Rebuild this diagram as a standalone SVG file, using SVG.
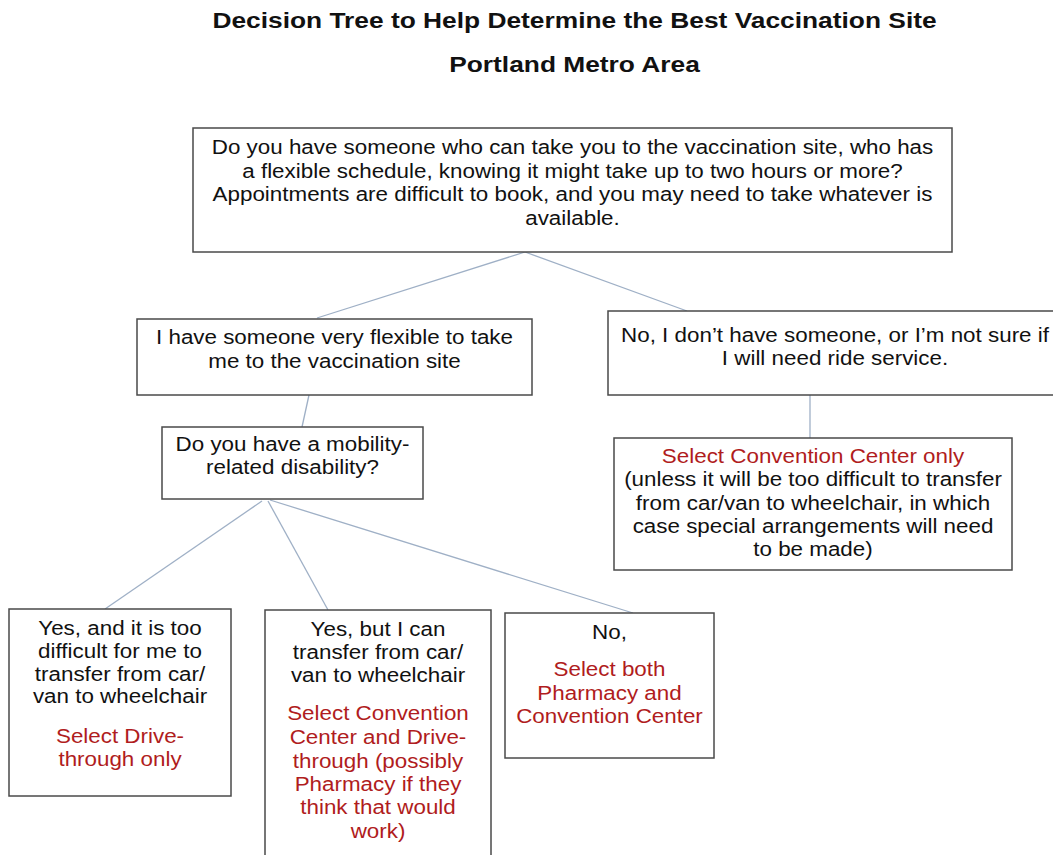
<svg xmlns="http://www.w3.org/2000/svg" width="1053" height="855" viewBox="0 0 1053 855">
<style>
.box{fill:#fff;stroke:#4a4a4a;stroke-width:1.5}
.conn{stroke:#9fb0c6;stroke-width:1.3;fill:none}
.t{font-family:"Liberation Sans",Arial,sans-serif;font-size:19.3px;fill:#111;text-anchor:middle}
.r{fill:#b01c20}
.title{font-family:"Liberation Sans",Arial,sans-serif;font-size:22.7px;font-weight:bold;fill:#111;text-anchor:middle}
</style>
<rect width="1053" height="855" fill="#fff"/>
<g id="title">
<g transform="translate(574.5 0) scale(1.16 1)">
<text class="title" x="0" y="28">Decision Tree to Help Determine the Best Vaccination Site</text>
<text class="title" x="0" y="72">Portland Metro Area</text>
</g>
</g>
<g id="connectors">
<line class="conn" x1="525" y1="252" x2="317" y2="318"/>
<line class="conn" x1="525" y1="252" x2="687" y2="311"/>
<line class="conn" x1="309" y1="395" x2="302" y2="427"/>
<line class="conn" x1="810" y1="395" x2="810" y2="438"/>
<line class="conn" x1="262" y1="501" x2="105" y2="609"/>
<line class="conn" x1="268" y1="501" x2="328" y2="610"/>
<line class="conn" x1="270" y1="500" x2="633" y2="613"/>
</g>
<g id="q-ride">
<rect class="box" x="193" y="128" width="759" height="124"/>
<g transform="translate(572.5 0) scale(1.16 1)">
<text class="t" x="0" y="154">Do you have someone who can take you to the vaccination site, who has</text>
<text class="t" x="0" y="178">a flexible schedule, knowing it might take up to two hours or more?</text>
<text class="t" x="0" y="201">Appointments are difficult to book, and you may need to take whatever is</text>
<text class="t" x="0" y="225">available.</text>
</g>
</g>
<g id="a-flexible">
<rect class="box" x="137" y="319" width="395" height="76"/>
<g transform="translate(334.5 0) scale(1.16 1)">
<text class="t" x="0" y="344">I have someone very flexible to take</text>
<text class="t" x="0" y="368">me to the vaccination site</text>
</g>
</g>
<g id="a-no-ride">
<rect class="box" x="608" y="311" width="460" height="84"/>
<g transform="translate(835 0) scale(1.16 1)">
<text class="t" x="0" y="342">No, I don’t have someone, or I’m not sure if</text>
<text class="t" x="0" y="365">I will need ride service.</text>
</g>
</g>
<g id="q-mobility">
<rect class="box" x="162" y="427" width="261" height="72"/>
<g transform="translate(292.5 0) scale(1.16 1)">
<text class="t" x="0" y="451">Do you have a mobility-</text>
<text class="t" x="0" y="474">related disability?</text>
</g>
</g>
<g id="r-convention-only">
<rect class="box" x="614" y="438" width="398" height="132"/>
<g transform="translate(813 0) scale(1.16 1)">
<text class="t r" x="0" y="463">Select Convention Center only</text>
<text class="t" x="0" y="486.5">(unless it will be too difficult to transfer</text>
<text class="t" x="0" y="510">from car/van to wheelchair, in which</text>
<text class="t" x="0" y="533">case special arrangements will need</text>
<text class="t" x="0" y="556.5">to be made)</text>
</g>
</g>
<g id="a-too-difficult">
<rect class="box" x="9" y="609" width="222" height="187"/>
<g transform="translate(120 0) scale(1.16 1)">
<text class="t" x="0" y="635">Yes, and it is too</text>
<text class="t" x="0" y="658">difficult for me to</text>
<text class="t" x="0" y="681">transfer from car/</text>
<text class="t" x="0" y="703">van to wheelchair</text>
<text class="t r" x="0" y="743">Select Drive-</text>
<text class="t r" x="0" y="766">through only</text>
</g>
</g>
<g id="a-can-transfer">
<rect class="box" x="265" y="610" width="226" height="260"/>
<g transform="translate(378 0) scale(1.16 1)">
<text class="t" x="0" y="636">Yes, but I can</text>
<text class="t" x="0" y="659">transfer from car/</text>
<text class="t" x="0" y="682">van to wheelchair</text>
<text class="t r" x="0" y="720">Select Convention</text>
<text class="t r" x="0" y="744">Center and Drive-</text>
<text class="t r" x="0" y="768">through (possibly</text>
<text class="t r" x="0" y="791">Pharmacy if they</text>
<text class="t r" x="0" y="814">think that would</text>
<text class="t r" x="0" y="838">work)</text>
</g>
</g>
<g id="a-no-mobility">
<rect class="box" x="505" y="613" width="209" height="145"/>
<g transform="translate(609.5 0) scale(1.16 1)">
<text class="t" x="0" y="639">No,</text>
<text class="t r" x="0" y="676">Select both</text>
<text class="t r" x="0" y="700">Pharmacy and</text>
<text class="t r" x="0" y="723">Convention Center</text>
</g>
</g>
</svg>
